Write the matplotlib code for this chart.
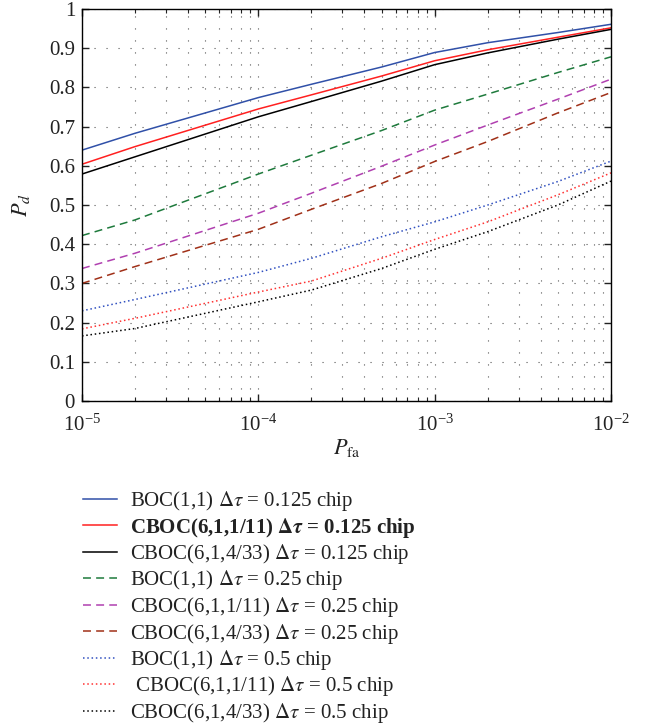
import numpy as np
import matplotlib
matplotlib.use("Agg")
import matplotlib.pyplot as plt
from matplotlib.ticker import LogLocator, NullFormatter, LogFormatterMathtext

plt.rcParams['font.family'] = ['Liberation Serif', 'DejaVu Serif']
plt.rcParams['mathtext.fontset'] = 'stix'

pfa = [1e-5, 2e-5, 1e-4, 2e-4, 5e-4, 1e-3, 2e-3, 5e-3, 1e-2]

boc_0125 = [0.640, 0.683, 0.774, 0.808, 0.852, 0.889, 0.914, 0.940, 0.961]
cboc11_0125 = [0.604, 0.649, 0.745, 0.781, 0.829, 0.868, 0.896, 0.928, 0.952]
cboc433_0125 = [0.579, 0.623, 0.725, 0.764, 0.816, 0.858, 0.888, 0.923, 0.948]
boc_025 = [0.422, 0.462, 0.579, 0.627, 0.690, 0.742, 0.783, 0.838, 0.878]
cboc11_025 = [0.338, 0.377, 0.479, 0.530, 0.599, 0.653, 0.704, 0.770, 0.821]
cboc433_025 = [0.300, 0.343, 0.438, 0.489, 0.555, 0.611, 0.662, 0.735, 0.787]
boc_05 = [0.230, 0.259, 0.328, 0.364, 0.419, 0.457, 0.500, 0.560, 0.612]
cboc11_05 = [0.184, 0.211, 0.278, 0.306, 0.364, 0.412, 0.457, 0.526, 0.582]
cboc433_05 = [0.166, 0.185, 0.253, 0.283, 0.338, 0.387, 0.432, 0.500, 0.561]

labels = [
    r'BOC(1,1) $\Delta\tau$ = 0.125 chip',
    r'CBOC(6,1,1/11) $\mathbf{\Delta}\boldsymbol{\tau}$ = 0.125 chip',
    r'CBOC(6,1,4/33) $\Delta\tau$ = 0.125 chip',
    r'BOC(1,1) $\Delta\tau$ = 0.25 chip',
    r'CBOC(6,1,1/11) $\Delta\tau$ = 0.25 chip',
    r'CBOC(6,1,4/33) $\Delta\tau$ = 0.25 chip',
    r'BOC(1,1) $\Delta\tau$ = 0.5 chip',
    r' CBOC(6,1,1/11) $\Delta\tau$ = 0.5 chip',
    r'CBOC(6,1,4/33) $\Delta\tau$ = 0.5 chip',
]

series = [boc_0125, cboc11_0125, cboc433_0125, boc_025, cboc11_025, cboc433_025,
          boc_05, cboc11_05, cboc433_05]
colors = ['#3050a8', '#ff2020', '#000000', '#1e7a3c', '#b040b0', '#a03018',
          '#3050c0', '#ff3030', '#000000']
styles = ['-', '-', '-', (0, (5.2, 3.4)), (0, (5.2, 3.4)), (0, (5.2, 3.4)),
          (0, (1, 1.8)), (0, (1, 1.8)), (0, (1, 1.8))]

fig = plt.figure(figsize=(6.56, 7.27), dpi=100)
ax = fig.add_axes([82/656, 1-401/727, (611-82)/656, (401-9)/727])

handles = []
for y, c, s, l in zip(series, colors, styles, labels):
    h, = ax.semilogx(pfa, y, color=c, linestyle=s, linewidth=1.1, label=l)
    handles.append(h)

ax.set_xlim(1e-5, 1e-2)
ax.set_ylim(0, 1)
yt = np.round(np.arange(0, 1.01, 0.1), 1)
ax.set_yticks(yt)
ax.set_yticklabels(['0'] + ['%.1f' % v for v in yt[1:-1]] + ['1'])
ax.xaxis.set_major_locator(LogLocator(base=10, numticks=10))
ax.xaxis.set_minor_locator(LogLocator(base=10, subs=np.arange(2, 10), numticks=10))
ax.xaxis.set_minor_formatter(NullFormatter())
ax.xaxis.set_major_formatter(LogFormatterMathtext())

ax.tick_params(which='both', direction='in', top=True, right=True, labelsize=15,
               colors='#222222')
ax.tick_params(axis='x', pad=10)
ax.tick_params(axis='y', pad=5)
ax.tick_params(which='major', length=5, width=1.0)
ax.tick_params(which='minor', length=3, width=0.8)
for sp in ax.spines.values():
    sp.set_linewidth(1.0)

ax.grid(True, which='major', axis='y', color='#555555', linewidth=0.8, linestyle=(0, (1, 9.8)))
ax.grid(True, which='both', axis='x', color='#555555', linewidth=0.8, linestyle=(0, (1, 9.8)))

ax.set_xlabel(r'$P_{\mathrm{fa}}$', fontsize=16, color='#222222', labelpad=1)
ax.set_ylabel(r'$P_d$', fontsize=16, color='#222222', labelpad=12)

leg = fig.legend(handles=handles, loc='upper left', bbox_to_anchor=(83/656, 1-489/727),
                 frameon=False, fontsize=15, handlelength=1.63, handletextpad=0.62,
                 labelspacing=0.12, borderaxespad=0, borderpad=0)
for i, t in enumerate(leg.get_texts()):
    t.set_color('#222222')
    if i == 1:
        t.set_fontweight('bold')

fig.savefig('out.png', dpi=100)
